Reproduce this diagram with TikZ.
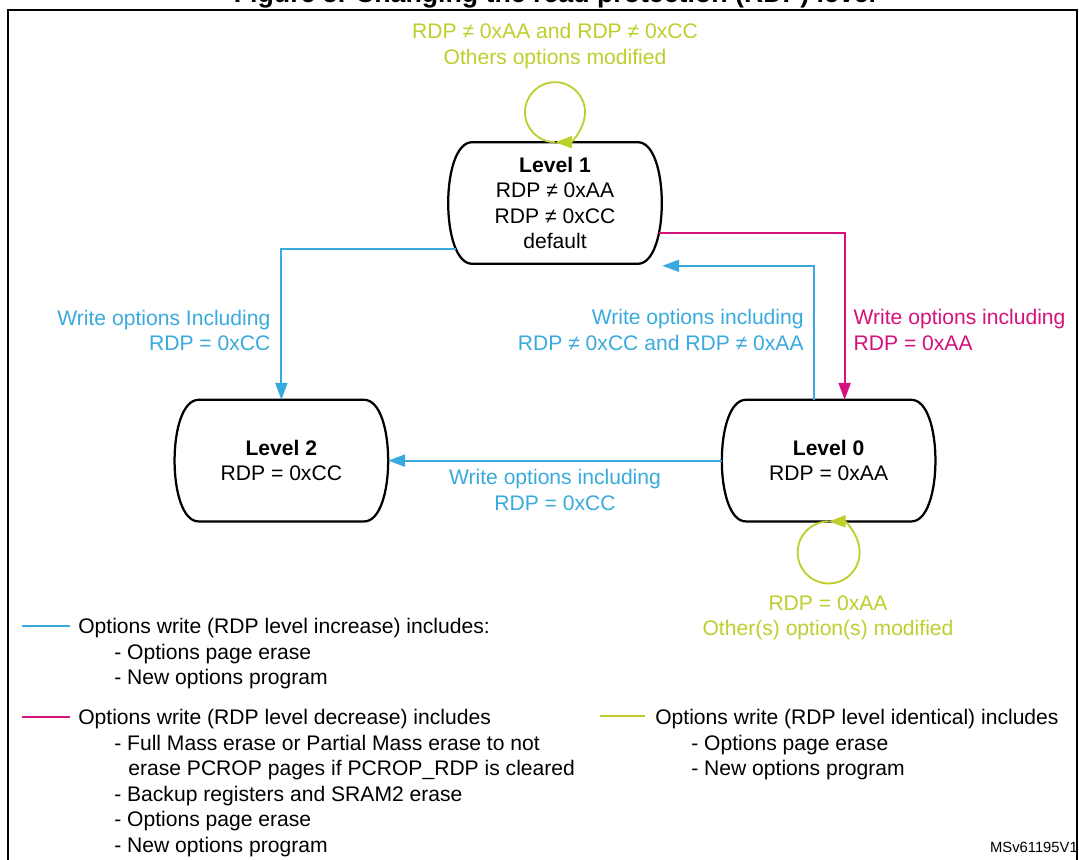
\documentclass[tikz,border=0pt]{standalone}
\usepackage{fontspec}
\setmainfont{Liberation Sans}
\usetikzlibrary{positioning,arrows.meta}

\definecolor{incblue}{RGB}{58,170,222}
\definecolor{decpink}{RGB}{214,16,124}
\definecolor{idgreen}{RGB}{190,206,44}

\begin{document}
\begin{tikzpicture}[x=0.025cm,y=-0.025cm,
    lvl/.style={minimum width=4.125cm,minimum height=3.025cm,align=center},
    lvline/.style={line width=1.6pt},
    tip/.style={-{Triangle[length=12pt,width=8.5pt]}},
    incr/.style={draw=incblue,line width=1.4pt,tip},
    decr/.style={draw=decpink,line width=1.4pt,tip},
    same/.style={draw=idgreen,line width=1.3pt,tip}]
    \tikzstyle{every node}=[font=\fontsize{15}{18.2}\selectfont,inner sep=0pt]
    \useasboundingbox[fill=white] (0,0) rectangle (1079,860);

    % frame and (cut) title
    \draw[line width=1.6pt] (8,10) rectangle (1077,880);
    \node[anchor=base,font=\bfseries\fontsize{19}{22}\selectfont] (title) at (555,3) {Figure 5. Changing the read protection (RDP) level};

    % levels
    \node[lvl] (lvone) at (555,203) {\textbf{Level 1}\\RDP ≠ 0xAA\\RDP ≠ 0xCC\\default};
    \node[lvl,below left=3.4cm and 2.7cm of lvone] (lvtwo) {\textbf{Level 2}\\RDP = 0xCC};
    \node[lvl,below right=3.4cm and 2.7cm of lvone] (lvzero) {\textbf{Level 0}\\RDP = 0xAA};
    \foreach \n in {lvone,lvtwo,lvzero}
        \draw[lvline] (\n.north west) -- (\n.north east) .. controls +(0.8cm,0) and +(0.8cm,0) .. (\n.south east) -- (\n.south west) .. controls +(-0.8cm,0) and +(-0.8cm,0) .. (\n.north west) -- cycle;

    % transitions
    \draw[incr] ([shift={(-16,46)}]lvone.west) -| node[pos=.77,anchor=east,xshift=-0.25cm,align=right,text=incblue] {Write options Including\\RDP = 0xCC} (lvtwo.north);
    \draw[decr] ([shift={(21,30)}]lvone.east) -| node[pos=.79,anchor=west,xshift=0.2cm,align=left,text=decpink] {Write options including\\RDP = 0xAA} ([xshift=0.4cm]lvzero.north);
    \draw[incr] ([xshift=-0.375cm]lvzero.north) |- node[pos=.26,anchor=east,xshift=-0.225cm,align=right,text=incblue] {Write options including\\RDP ≠ 0xCC and RDP ≠ 0xAA} ([shift={(24.5,2)}]lvone.south east);
    \draw[incr] ([xshift=-0.6cm]lvzero.west) -- node[below=0.2cm,align=center,text=incblue] {Write options including\\RDP = 0xCC} ([xshift=0.6cm]lvtwo.east);

    % self loops
    \draw[same] (lvone.north) arc[start angle=-90,end angle=-450,radius=0.75cm];
    \node[text=idgreen,align=center] (lvonenote) at (555,46) {RDP ≠ 0xAA and RDP ≠ 0xCC\\Others options modified};
    \draw[same] (lvzero.south) arc[start angle=90,end angle=450,radius=0.775cm];
    \node[text=idgreen,align=center] (lvzeronote) at (828,618) {RDP = 0xAA\\Other(s) option(s) modified};

    % legend
    \draw[incblue,line width=1.4pt] (22,626) -- (70,626);
    \node[anchor=north west,align=left] (legincr) at (78,618) {Options write (RDP level increase) includes:\\\hspace*{25.6pt}- Options page erase\\\hspace*{25.6pt}- New options program};
    \draw[decpink,line width=1.4pt] (22,717) -- (70,717);
    \node[anchor=north west,align=left] (legdecr) at (78,709) {Options write (RDP level decrease) includes\\\hspace*{25.6pt}- Full Mass erase or Partial Mass erase to not\\\hspace*{35.6pt}erase PCROP pages if PCROP\_RDP is cleared\\\hspace*{25.6pt}- Backup registers and SRAM2 erase\\\hspace*{25.6pt}- Options page erase\\\hspace*{25.6pt}- New options program};
    \draw[idgreen,line width=1.4pt] (600,716) -- (645,716);
    \node[anchor=north west,align=left] (legsame) at (655,709) {Options write (RDP level identical) includes\\\hspace*{25.6pt}- Options page erase\\\hspace*{25.6pt}- New options program};
    \node[anchor=base east,font=\fontsize{10.5}{12}\selectfont] (figid) at (1078,852) {MSv61195V1};
\end{tikzpicture}
\end{document}
